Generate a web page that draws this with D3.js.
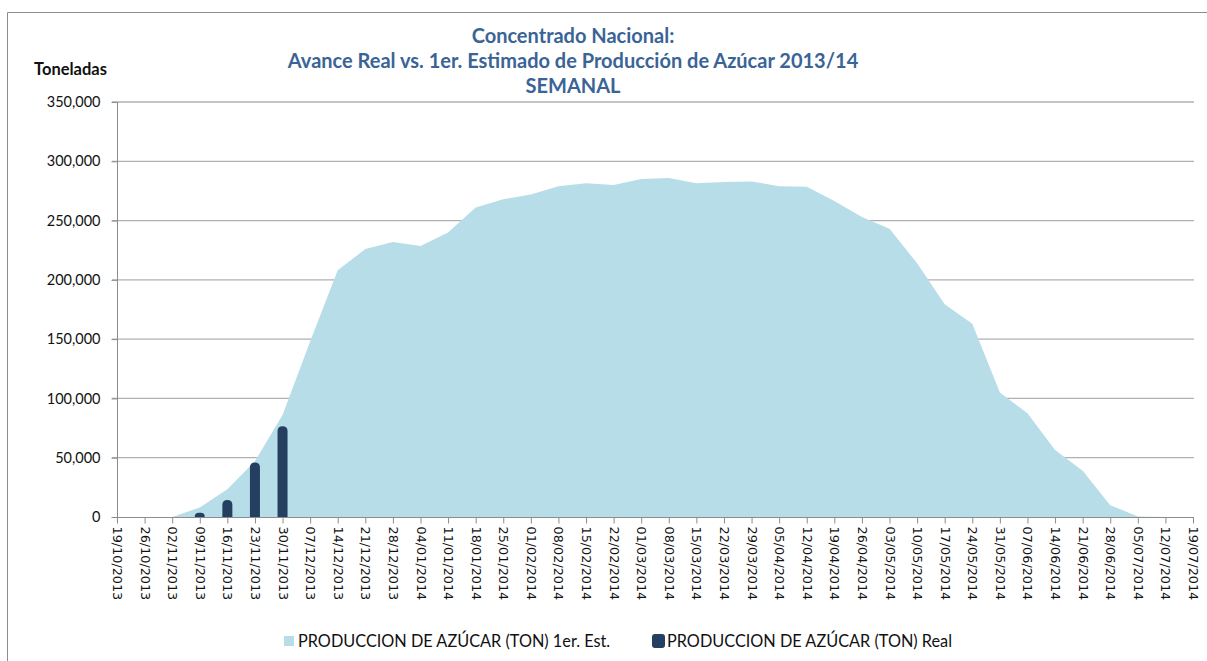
<!DOCTYPE html>
<html>
<head>
<meta charset="utf-8">
<script src="https://cdn.jsdelivr.net/npm/d3@7"></script>
<style>
  body { margin: 0; background: #fff; }
  svg { display: block; }
</style>
</head>
<body>
<div id="chart"></div>
<script>
// Weekly dates (x axis)
var weeks = ["19/10/2013", "26/10/2013", "02/11/2013", "09/11/2013", "16/11/2013",
  "23/11/2013", "30/11/2013", "07/12/2013", "14/12/2013", "21/12/2013",
  "28/12/2013", "04/01/2014", "11/01/2014", "18/01/2014", "25/01/2014",
  "01/02/2014", "08/02/2014", "15/02/2014", "22/02/2014", "01/03/2014",
  "08/03/2014", "15/03/2014", "22/03/2014", "29/03/2014", "05/04/2014",
  "12/04/2014", "19/04/2014", "26/04/2014", "03/05/2014", "10/05/2014",
  "17/05/2014", "24/05/2014", "31/05/2014", "07/06/2014", "14/06/2014",
  "21/06/2014", "28/06/2014", "05/07/2014", "12/07/2014", "19/07/2014"];

// 1er. estimado (area)
var estimado = [0, 0, 0, 8000, 23500, 47000, 86000, 148000, 208000, 226000,
  232000, 228500, 240000, 261000, 268000, 272000, 279000, 281500, 280000, 285000,
  286000, 281500, 282500, 283000, 279000, 278500, 266500, 253000, 243000, 214000,
  179500, 163000, 105000, 87500, 56500, 39000, 10000, 500, 0, 0];

// Avance real (bars)
var real = [null, null, null, 3500, 14300, 46000, 76500];

var yTicks = [0, 50000, 100000, 150000, 200000, 250000, 300000, 350000];

var titleLines = ["Concentrado Nacional:",
  "Avance Real vs. 1er. Estimado de Producción de Azúcar 2013/14",
  "SEMANAL"];

var W = 1207, H = 661;
var font = "Lato, 'Open Sans', sans-serif";
var svg = d3.select("#chart").append("svg").attr("width", W).attr("height", H);

// chart border
svg.append("path")
  .attr("d", "M7.5," + H + "V12.5H" + W)
  .attr("fill", "none").attr("stroke", "#8c8c8c").attr("stroke-width", 1);

var x = d3.scalePoint().domain(weeks).range([117, 1193]);
var y = d3.scaleLinear().domain([0, 350000]).range([517, 102]);

// gridlines
svg.append("g").selectAll("line").data(yTicks.slice(1)).join("line")
  .attr("x1", 112).attr("x2", 1194)
  .attr("y1", function (d) { return y(d); })
  .attr("y2", function (d) { return y(d); })
  .attr("stroke", "#b0b0b0").attr("stroke-width", 1.3);

// area
var data = weeks.map(function (w, i) { return { w: w, v: estimado[i] }; });
var area = d3.area()
  .x(function (d) { return x(d.w); })
  .y0(y(0))
  .y1(function (d) { return y(d.v); });
svg.append("path").datum(data).attr("d", area).attr("fill", "#b7dde8");

// real bars with rounded tops
var bw = 10;
svg.append("g").selectAll("path")
  .data(real.map(function (v, i) { return { w: weeks[i], v: v }; })
    .filter(function (d) { return d.v != null; }))
  .join("path")
  .attr("fill", "#243f60")
  .attr("d", function (d) {
    var cx = x(d.w), x0 = cx - bw / 2, yb = y(0), yt = y(d.v);
    var r = Math.min(bw / 2, (yb - yt));
    return "M" + x0 + "," + yb + "V" + (yt + r) +
      "Q" + x0 + "," + yt + " " + (x0 + r) + "," + yt +
      "H" + (x0 + bw - r) +
      "Q" + (x0 + bw) + "," + yt + " " + (x0 + bw) + "," + (yt + r) +
      "V" + yb + "Z";
  });

// y axis
var yAxis = svg.append("g").attr("transform", "translate(117.5,0)")
  .call(d3.axisLeft(y).tickValues(yTicks).tickSize(6).tickPadding(11)
    .tickFormat(d3.format(",")));
yAxis.select(".domain").attr("stroke", "#8c8c8c").attr("d", "M0," + y(350000) + "V" + (y(0) + 6));
yAxis.selectAll(".tick line").attr("stroke", "#8c8c8c");
yAxis.selectAll("text").attr("font-family", font)
  .attr("font-size", 14.5).attr("fill", "#111");

// x axis
var xAxis = svg.append("g").attr("transform", "translate(0,517.5)")
  .call(d3.axisBottom(x).tickSize(6).tickSizeOuter(0));
xAxis.select(".domain").attr("stroke", "#8c8c8c").attr("d", "M112,0H1194");
xAxis.selectAll(".tick line").attr("stroke", "#8c8c8c");
xAxis.selectAll("text")
  .attr("font-family", "'DejaVu Sans', sans-serif")
  .attr("font-size", 12.8).attr("fill", "#111")
  .attr("text-anchor", "start")
  .attr("transform", "rotate(90)")
  .attr("x", 9).attr("y", 0).attr("dy", "0.35em");

// titles
svg.append("g").selectAll("text").data(titleLines).join("text")
  .attr("x", 573).attr("y", function (d, i) { return 43 + i * 25; })
  .attr("text-anchor", "middle")
  .attr("font-family", font)
  .attr("font-weight", "bold").attr("font-size", 20)
  .attr("fill", "#3a6496")
  .text(function (d) { return d; });

svg.append("text").attr("x", 34).attr("y", 75)
  .attr("font-family", font)
  .attr("font-weight", "bold").attr("font-size", 16.5).attr("fill", "#111")
  .text("Toneladas");

// legend
var legend = svg.append("g").attr("font-family", font)
  .attr("font-size", 16.3).attr("fill", "#111");
legend.append("rect").attr("x", 284).attr("y", 636).attr("width", 10).attr("height", 10)
  .attr("fill", "#b7dde8");
legend.append("text").attr("x", 298).attr("y", 647)
  .text("PRODUCCION DE AZÚCAR (TON) 1er. Est.");
legend.append("rect").attr("x", 652).attr("y", 634).attr("width", 13).attr("height", 14)
  .attr("rx", 3).attr("fill", "#243f60");
legend.append("text").attr("x", 667).attr("y", 647)
  .text("PRODUCCION DE AZÚCAR (TON) Real");
</script>
</body>
</html>
